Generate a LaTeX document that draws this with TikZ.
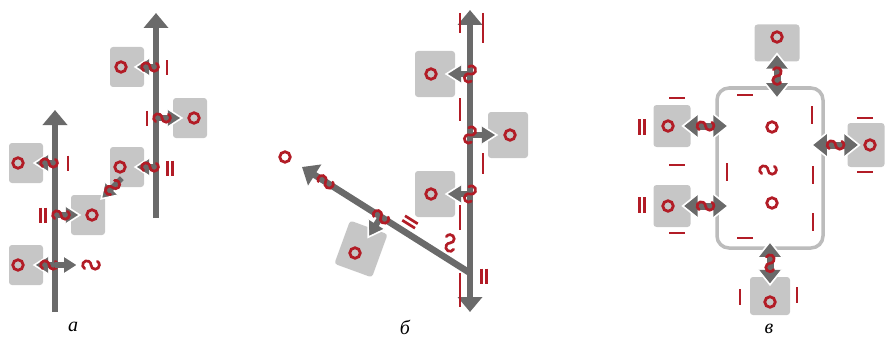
\documentclass[tikz,border=0pt]{standalone}
\usepackage{fontspec}
\setmainfont{Liberation Serif}
\usepackage{xcolor}
\usetikzlibrary{arrows.meta,calc}

\definecolor{bondred}{RGB}{178,28,38}
\definecolor{arrgray}{RGB}{106,106,106}
\definecolor{sqgray}{RGB}{198,198,198}
\definecolor{framegray}{RGB}{188,188,188}

\begin{document}
\begin{tikzpicture}[x=1pt, y=-1pt,
    >={Triangle[length=15pt, width=24pt]},
    sq/.style={rectangle, fill=sqgray, rounded corners=3pt, minimum width=34pt, minimum height=40pt, inner sep=0pt},
    bsq/.style={sq, minimum width=40pt, minimum height=46pt},
    cellframe/.style={rectangle, draw=framegray, line width=3.5pt, rounded corners=12pt, minimum width=106pt, minimum height=160pt},
    atom/.style={circle, draw=bondred, line width=2.8pt, minimum size=10.5pt, inner sep=0pt},
    redline/.style={draw=bondred, line width=2.7pt},
    trunk/.style={draw=arrgray, line width=6.5pt, ->},
    shaft/.style={draw=arrgray, line width=5.5pt},
    notch/.style={draw=white, line width=1.6pt, line join=miter},
    panel/.style={font=\itshape\fontsize{20}{20}\selectfont, inner sep=0pt},
    pics/head/.style 2 args={code={
        \fill[arrgray] (0,0) -- (-#1,#2) -- (-#1,-#2) -- cycle;
        \draw[notch] (-#1,#2) -- (0,0) -- (-#1,-#2);
    }},
    pics/hook/.style={code={
        \draw[redline, line cap=round] (-6.3,3.64) arc[start angle=-240, end angle=0, radius=4.2]
            arc[start angle=-180, end angle=-420, radius=4.2];
    }},
    pics/onebar/.style={code={\draw[redline] (0,-#1) -- (0,#1);}},
    pics/onebar/.default=7.5,
    pics/twobar/.style={code={\draw[redline] (-2.6,-#1) -- (-2.6,#1) (2.6,-#1) -- (2.6,#1);}},
    pics/twobar/.default=7.5,
]
    \useasboundingbox (0,0) rectangle (889,345);

    % a
    \coordinate (aLb) at (55,312);  \coordinate (aLt) at (55,110);
    \coordinate (aRb) at (156,218); \coordinate (aRt) at (156,13);
    \node[sq] (aS1) at (127,67) {};
    \node[sq] (aS2) at (190,118) {};
    \node[sq] (aS3) at (127,167) {};
    \node[sq] (aS4) at (88,215) {};
    \node[sq] (aS5) at (26,163) {};
    \node[sq] (aS6) at (26,265) {};
    \draw[trunk] (aLb) -- (aLt);
    \draw[trunk] (aRb) -- (aRt);
    \foreach \s/\tr/\an/\rot/\c in {aS1/aRt/east/180/-6, aS2/aRt/west/0/4, aS3/aRt/east/180/-7,
                                   aS4/aLt/west/0/4, aS5/aLt/east/180/-8, aS6/aLt/east/180/-8}{
      \coordinate (tip) at ($(\s.\an)!9pt!(\s.center)$);
      \draw[shaft, shorten >=10pt] (\tr |- tip) -- (tip);
      \pic[rotate=\rot] at (tip) {head={14}{9}};
      \pic at ($(\tr |- tip)!6pt!(tip)$) {hook};
      \node[atom] (o\s) at ([xshift=\c pt]\s.center) {};
    }
    \coordinate (aFree) at ([xshift=23pt]aLt |- aS6);
    \draw[shaft, shorten >=10pt] (aLt |- aS6) -- (aFree);
    \pic at (aFree) {head={14}{9}};
    \pic at ([xshift=13pt]aFree) {hook};
    \coordinate (aD) at ([xshift=12pt,yshift=9pt]aS3.south west);
    \coordinate (aDt) at ([xshift=-4pt,yshift=-4pt]aS4.north east);
    \draw[shaft, shorten >=10pt] (aD) -- (aDt);
    \pic[rotate=225] at (aDt) {head={14}{9}};
    \pic[rotate=45] at ($(aD)!0.45!(aDt)$) {hook};
    \pic at (167,68) {onebar};
    \pic at (147,118) {onebar};
    \pic at (170,168) {twobar};
    \pic at (43,215) {twobar};
    \pic at (68,163) {onebar};
    \node[panel] (la) at (73,327) {а};

    % b
    \coordinate (bTop) at (470,10); \coordinate (bBot) at (470,312);
    \coordinate (bJ) at (470,273);  \coordinate (bEnd) at (302,167);
    \node[bsq] (bS1) at (435,74) {};
    \node[bsq] (bS2) at (508,135) {};
    \node[bsq] (bS3) at (435,194) {};
    \node[bsq, rotate=-20] (bS4) at (361,249) {};
    \draw[trunk, <->] (bTop) -- (bBot);
    \draw[trunk] (bJ) -- (bEnd);
    \foreach \s/\an/\rot/\c in {bS1/east/180/-4, bS2/west/0/2, bS3/east/180/-4}{
      \coordinate (tip) at ($(\s.\an)!9pt!(\s.center)$);
      \draw[shaft, line width=6pt, shorten >=11pt] (bTop |- tip) -- (tip);
      \pic[rotate=\rot] at (tip) {head={15}{9.5}};
      \pic[rotate=70] at (bTop |- tip) {hook};
      \node[atom] (o\s) at ([xshift=\c pt]\s.center) {};
    }
    \coordinate (bK) at ($(bJ)!0.53!(bEnd)$);
    \coordinate (bKt) at ($(bK)+(122:24)$);
    \draw[shaft, line width=6pt, shorten >=11pt] (bK) -- (bKt);
    \pic[rotate=238] at (bKt) {head={15}{9.5}};
    \pic[rotate=-32] at (bK) {hook};
    \pic[rotate=-32] at ($(bJ)!0.86!(bEnd)$) {hook};
    \node[atom] (obS4) at (355,253) {};
    \node[atom] (bFree) at (285,157) {};
    \foreach \ya/\yb in {13/33, 98/121, 205/230, 273/307} \draw[redline] (460,\ya) -- (460,\yb);
    \foreach \ya/\yb in {13/43, 153/174} \draw[redline] (483,\ya) -- (483,\yb);
    \pic[rotate=58] at (410,222) {twobar};
    \pic at (484,276) {twobar};
    \pic[rotate=90] at (450,243) {hook};
    \node[panel] (lb) at (405,327) {б};

    % c
    \node[cellframe] (cell) at (770,168) {};
    \node[sq, minimum width=45pt, minimum height=37pt] (cS1) at (777,43) {};
    \node[sq, minimum width=37pt, minimum height=42pt] (cS2) at (672,126) {};
    \node[sq, minimum width=37pt, minimum height=42pt] (cS3) at (672,206) {};
    \node[sq, minimum width=37pt, minimum height=44pt] (cS4) at (866,145) {};
    \node[sq, minimum width=40pt, minimum height=38pt] (cS5) at (770,296) {};
    \coordinate (c1a) at ([yshift=8pt]cS1.south);
    \coordinate (c1b) at ($(cS1.south |- cell.north)+(0,12)$);
    \coordinate (c2a) at ([xshift=-8pt]cS2.east);
    \coordinate (c2b) at ($(cell.west |- cS2)+(13,0)$);
    \coordinate (c3a) at ([xshift=-8pt]cS3.east);
    \coordinate (c3b) at ($(cell.west |- cS3)+(13,0)$);
    \coordinate (c4a) at ($(cell.east |- cS4)+(-13,0)$);
    \coordinate (c4b) at ([xshift=12pt]cS4.west);
    \coordinate (c5a) at ($(cS5.north |- cell.south)+(0,-8)$);
    \coordinate (c5b) at ([yshift=-8pt]cS5.north);
    \foreach \p/\q/\rot in {c1a/c1b/-90, c2a/c2b/0, c3a/c3b/0, c4a/c4b/0, c5a/c5b/-90}{
      \draw[shaft, line width=7pt, shorten <=11pt, shorten >=11pt] (\p) -- (\q);
      \pic[rotate=\rot] at (\q) {head={15}{12}};
      \pic[rotate=\rot+180] at (\p) {head={15}{12}};
      \pic[rotate=\rot] at ($(\p)!0.5!(\q)$) {hook};
    }
    \node[atom] (oc1) at ([yshift=6pt]cS1.center) {};
    \node[atom] (oc2) at ([xshift=-4pt]cS2.center) {};
    \node[atom] (oc3) at ([xshift=-4pt]cS3.center) {};
    \node[atom] (oc4) at ([xshift=4pt]cS4.center) {};
    \node[atom] (oc5) at ([yshift=-6pt]cS5.center) {};
    \node[atom] (oin1) at (772,127) {};
    \node[atom] (oin2) at (772,203) {};
    \pic at (768,170) {hook};
    \foreach \x/\y in {745/95, 745/238, 677/98, 677/165, 677/233, 865/118, 865/172}
      \pic[rotate=90] at (\x,\y) {onebar=8};
    \foreach \x/\y in {812/115, 727/172, 813/175, 813/222}
      \pic at (\x,\y) {onebar=9};
    \foreach \x/\y in {740/297, 797/295}
      \pic at (\x,\y) {onebar=8};
    \pic at (642,127) {twobar=8};
    \pic at (642,205) {twobar=8};
    \node[panel] (lc) at (769,329) {в};
\end{tikzpicture}
\end{document}
